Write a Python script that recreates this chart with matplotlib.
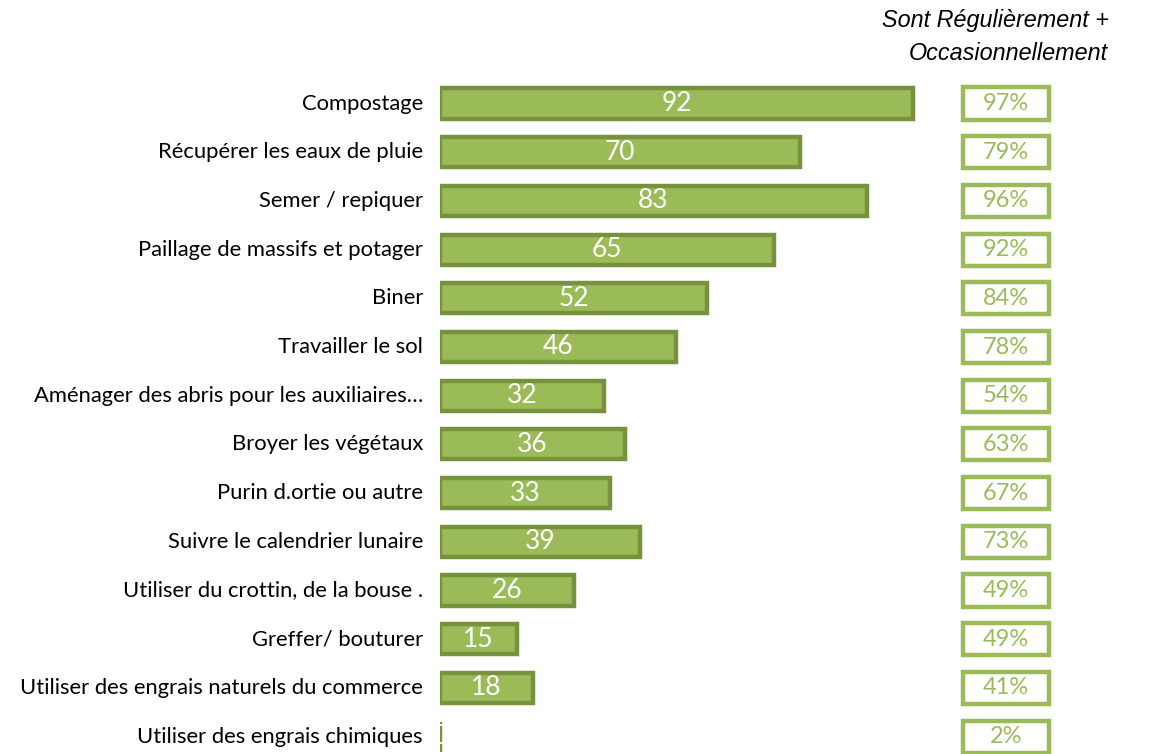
import matplotlib.pyplot as plt
from matplotlib.patches import Rectangle

categories = [
    "Compostage",
    "Récupérer les eaux de pluie",
    "Semer / repiquer",
    "Paillage de massifs et potager",
    "Biner",
    "Travailler le sol",
    "Aménager des abris pour les auxiliaires…",
    "Broyer les végétaux",
    "Purin d.ortie ou autre",
    "Suivre le calendrier lunaire",
    "Utiliser du crottin, de la bouse .",
    "Greffer/ bouturer",
    "Utiliser des engrais naturels du commerce",
    "Utiliser des engrais chimiques",
]
values = [92, 70, 83, 65, 52, 46, 32, 36, 33, 39, 26, 15, 18, 0]
totals = ["97%", "79%", "96%", "92%", "84%", "78%", "54%", "63%", "67%", "73%",
          "49%", "49%", "41%", "2%"]

fill = "#9BBB59"
edge = "#76923C"

W, H = 1150, 754
fig = plt.figure(figsize=(W / 100, H / 100), dpi=100)

# axes: bars start at x=440px, row 0 centred at y=103.5px, rows 48.7px apart
step = 48.7
top = 103.5 - step / 2
bottom = top + step * len(categories)
ax = fig.add_axes([440 / W, (H - bottom) / H, 1 - 440 / W, (bottom - top) / H])
ax.set_xlim(0, (W - 440) / 5.14)
ax.set_ylim(len(categories) - 0.5, -0.5)
ax.axis("off")

y = list(range(len(categories)))
ax.barh(y, values, height=0.62, color=fill, edgecolor=edge, linewidth=3.2)

for i, (v, lab) in enumerate(zip(values, categories)):
    ax.text(v / 2, i, str(v), ha="center", va="center", color="white",
            fontsize=19, family="Lato")
    ax.text(-0.024, i, lab, transform=ax.get_yaxis_transform(), ha="right",
            va="center", fontsize=15.8, family="Lato", color="black")

# boxes on the right
x0 = (963 - 440) / (W - 440)
bw = (1049 - 963) / (W - 440)
for i, t in enumerate(totals):
    ax.add_patch(Rectangle((x0, i - 0.33), bw, 0.66, transform=ax.get_yaxis_transform(),
                           facecolor="white", edgecolor=fill, linewidth=3.2, clip_on=False))
    ax.text(x0 + bw / 2, i, t, transform=ax.get_yaxis_transform(), ha="center",
            va="center", color=fill, fontsize=17, family="Lato")

fig.text(995 / W, 1 - 21 / H, "Sont Régulièrement +", ha="center", va="center",
         fontsize=16.8, style="italic", family="Liberation Sans")
fig.text(1008 / W, 1 - 54 / H, "Occasionnellement", ha="center", va="center",
         fontsize=16.8, style="italic", family="Liberation Sans")

fig.savefig("out.png", dpi=100)
